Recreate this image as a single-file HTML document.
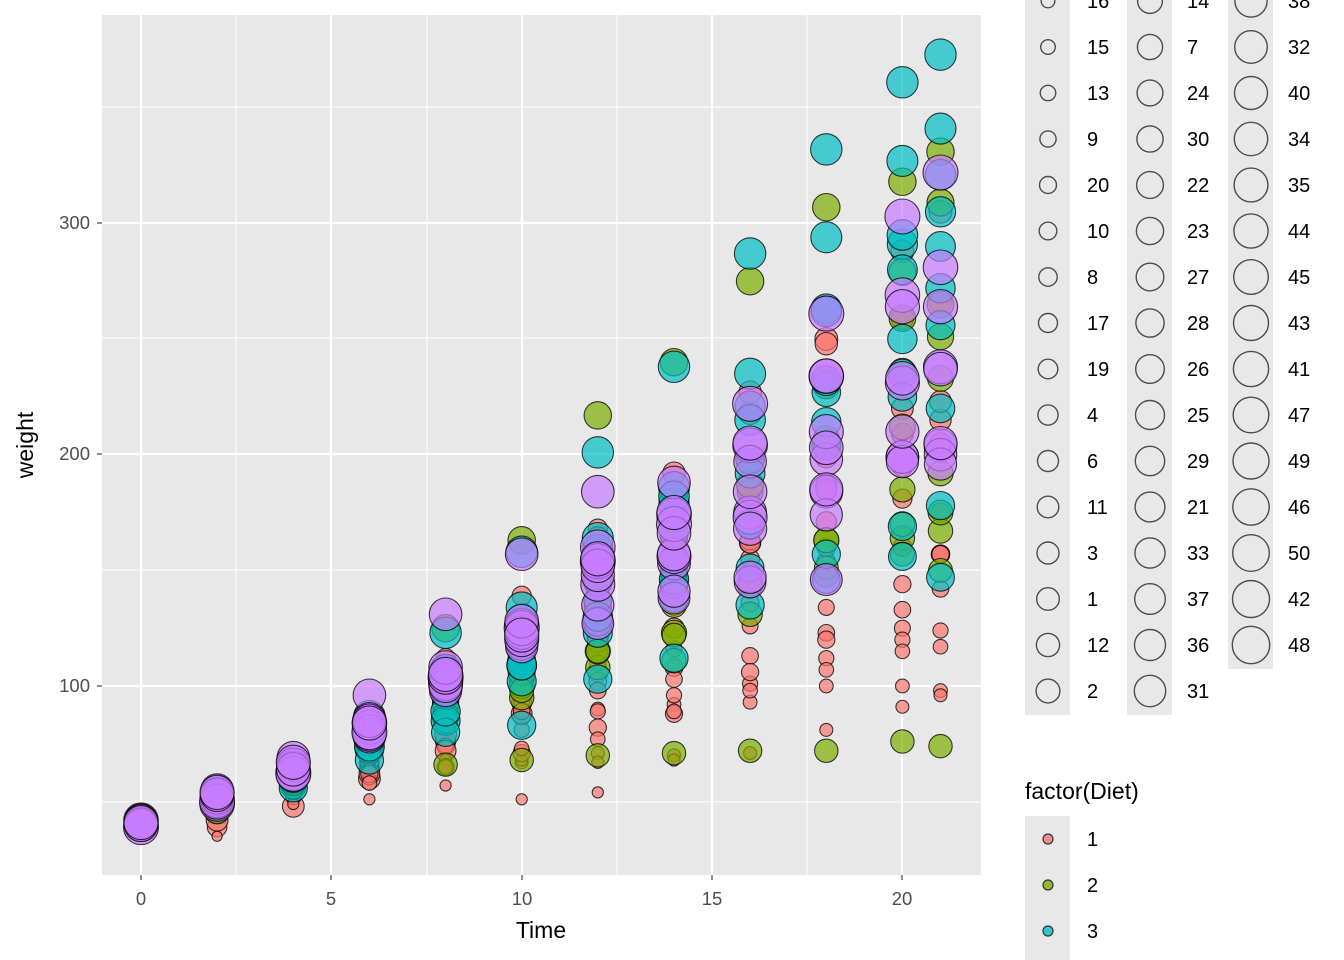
<!DOCTYPE html>
<html><head><meta charset="utf-8"><style>
html,body{margin:0;padding:0;background:#fff;width:1344px;height:960px;overflow:hidden}
svg{display:block;font-family:"Liberation Sans",sans-serif}
</style></head><body>
<svg id="s" width="1344" height="960" xmlns="http://www.w3.org/2000/svg">
<rect x="102" y="15" width="879" height="860" fill="#E8E8E8"/>
<g stroke="#fff" stroke-width="1.1">
<line x1="102" x2="981" y1="802" y2="802"/><line x1="102" x2="981" y1="570" y2="570"/><line x1="102" x2="981" y1="338" y2="338"/><line x1="102" x2="981" y1="107" y2="107"/>
<line y1="15" y2="875" x1="236" x2="236"/><line y1="15" y2="875" x1="427" x2="427"/><line y1="15" y2="875" x1="617" x2="617"/><line y1="15" y2="875" x1="807" x2="807"/>
</g>
<g stroke="#fff" stroke-width="2.2">
<line x1="102" x2="981" y1="686" y2="686"/><line x1="102" x2="981" y1="454" y2="454"/><line x1="102" x2="981" y1="223" y2="223"/>
<line y1="15" y2="875" x1="141" x2="141"/><line y1="15" y2="875" x1="331" x2="331"/><line y1="15" y2="875" x1="522" x2="522"/><line y1="15" y2="875" x1="712" x2="712"/><line y1="15" y2="875" x1="902" x2="902"/>
</g>
<g id="pts"></g>
<g stroke="#333" stroke-width="1.1">
<line x1="97" x2="102" y1="686" y2="686"/><line x1="97" x2="102" y1="454" y2="454"/><line x1="97" x2="102" y1="223" y2="223"/>
<line y1="875" y2="880" x1="141" x2="141"/><line y1="875" y2="880" x1="331" x2="331"/><line y1="875" y2="880" x1="522" x2="522"/><line y1="875" y2="880" x1="712" x2="712"/><line y1="875" y2="880" x1="902" x2="902"/>
</g>
<g fill="#4D4D4D" font-size="18.5">
<text x="90" y="692" text-anchor="end">100</text><text x="90" y="460" text-anchor="end">200</text><text x="90" y="229" text-anchor="end">300</text>
<text x="141" y="905" text-anchor="middle">0</text><text x="331" y="905" text-anchor="middle">5</text><text x="522" y="905" text-anchor="middle">10</text><text x="712" y="905" text-anchor="middle">15</text><text x="902" y="905" text-anchor="middle">20</text>
</g>
<text x="541" y="938" font-size="23" text-anchor="middle">Time</text>
<text transform="translate(33,445) rotate(-90)" font-size="23" text-anchor="middle">weight</text>
<rect x="1025" y="0" width="45" height="715" fill="#E8E8E8"/>
<rect x="1127" y="0" width="45" height="715" fill="#E8E8E8"/>
<rect x="1228" y="0" width="45" height="669" fill="#E8E8E8"/>
<g id="leg"></g>
<text x="1025" y="799" font-size="23">factor(Diet)</text>
<rect x="1025" y="816" width="45" height="144" fill="#E8E8E8"/>
<g font-size="20">
<circle cx="1048" cy="839" r="5" fill="#F8766D" fill-opacity="0.8" stroke="#333" stroke-width="1.2"/><text x="1087" y="846">1</text>
<circle cx="1048" cy="885" r="5" fill="#7CAE00" fill-opacity="0.8" stroke="#333" stroke-width="1.2"/><text x="1087" y="892">2</text>
<circle cx="1048" cy="931" r="5" fill="#00BFC4" fill-opacity="0.8" stroke="#333" stroke-width="1.2"/><text x="1087" y="938">3</text>
<circle cx="1048" cy="977" r="5" fill="#C77CFF" fill-opacity="0.8" stroke="#333" stroke-width="1.2"/>
</g>
</svg>
<script>
var D={1:[42,51,59,64,76,93,106,125,149,171,199,205],2:[40,49,58,72,84,103,122,138,162,187,209,215],3:[43,39,55,67,84,99,115,138,163,187,198,202],4:[42,49,56,67,74,87,102,108,136,154,160,157],5:[41,42,48,60,79,106,141,164,197,199,220,223],6:[41,49,59,74,97,124,141,148,155,160,160,157],7:[41,49,57,71,89,112,146,174,218,250,288,305],8:[42,50,61,71,84,93,110,116,126,134,125],9:[42,51,59,68,85,96,90,92,93,100,100,98],10:[41,44,52,63,74,81,89,96,101,112,120,124],11:[43,51,63,84,112,139,168,177,182,184,181,175],12:[41,49,56,62,72,88,119,135,162,185,195,205],13:[41,48,53,60,65,67,71,70,71,81,91,96],14:[41,49,62,79,101,128,164,192,227,248,259,266],15:[41,49,56,64,68,68,67,68],16:[41,45,49,51,57,51,54],17:[42,51,61,72,83,89,98,103,113,123,133,142],18:[39,35],19:[43,48,55,62,65,71,82,88,106,120,144,157],20:[41,47,54,58,65,73,77,89,98,107,115,117],21:[40,50,62,86,125,163,217,240,275,307,318,331],22:[41,55,64,77,90,95,108,111,131,148,164,167],23:[43,52,61,73,90,103,127,135,145,163,170,175],24:[42,52,58,74,66,68,70,71,72,72,76,74],25:[40,49,62,78,102,124,146,164,197,231,259,265],26:[42,48,57,74,93,114,136,147,169,205,236,251],27:[39,46,58,73,87,100,115,123,144,163,185,192],28:[39,46,58,73,92,114,145,156,184,207,212,233],29:[39,48,59,74,87,106,134,150,187,230,279,309],30:[42,48,59,72,85,98,115,122,143,151,157,150],31:[42,53,62,73,85,102,123,138,170,204,235,256],32:[41,49,65,82,107,129,159,179,221,263,291,305],33:[39,50,63,77,96,111,137,144,151,146,156,147],34:[41,49,63,85,107,134,164,186,235,294,327,341],35:[41,53,64,87,123,158,201,238,287,332,361,373],36:[39,48,61,76,98,116,145,166,198,227,225,220],37:[41,48,56,68,80,83,103,112,135,157,169,178],38:[41,49,61,74,98,109,128,154,192,232,280,290],39:[42,50,61,78,89,109,130,146,170,214,250,272],40:[41,55,66,79,101,120,154,182,215,262,295,321],41:[42,51,66,85,103,124,155,153,175,184,199,204],42:[42,49,63,84,103,126,160,174,204,234,269,281],43:[42,55,69,96,131,157,184,188,197,198,199,200],44:[42,51,65,86,103,118,127,138,145,146],45:[41,50,61,78,98,117,135,141,147,174,197,196],46:[40,52,62,82,101,120,144,156,173,210,231,238],47:[41,53,66,79,100,123,148,157,168,185,210,205],48:[39,50,62,80,104,125,154,170,222,261,303,322],49:[40,53,64,85,108,128,152,166,184,203,233,237],50:[41,54,67,84,105,122,155,175,205,234,264,264]};
var ord=[18,16,15,13,9,20,10,8,17,19,4,6,11,3,1,12,2,5,14,7,24,30,22,23,27,28,26,25,29,21,33,37,36,31,39,38,32,40,34,35,44,45,43,41,47,49,46,50,42,48];
var T=[0,2,4,6,8,10,12,14,16,18,20,21];
var col=["#F8766D","#7CAE00","#00BFC4","#C77CFF"];
function rad(i,leg){return Math.sqrt(40+6.3*i)-(leg?0:1.2);}
var h="";
for(var c=1;c<=50;c++){var i=ord.indexOf(c),r=rad(i),d=c<=20?0:c<=30?1:c<=40?2:3;
D[c].forEach(function(w,k){var x=141+T[k]*38.07,y=686-(w-100)*2.313;
h+='<circle cx="'+x.toFixed(1)+'" cy="'+y.toFixed(1)+'" r="'+r.toFixed(1)+'" fill="'+col[d]+'" fill-opacity="0.7" stroke="#000" stroke-opacity="0.75" stroke-width="1.1"/>';});}
document.getElementById("pts").innerHTML=h;
var g="";var cols=[[1048,1087,0,17],[1150,1187,17,34],[1251,1288,34,50]];
cols.forEach(function(cc){for(var j=cc[2];j<cc[3];j++){var y=-45+(j-cc[2])*46;
g+='<circle cx="'+cc[0]+'" cy="'+y+'" r="'+rad(j,1).toFixed(1)+'" fill="none" stroke="#4D4D4D" stroke-width="1.4"/>';
g+='<text x="'+cc[1]+'" y="'+(y+7)+'" font-size="20">'+ord[j]+'</text>';}});
document.getElementById("leg").innerHTML=g;
</script>
</body></html>
